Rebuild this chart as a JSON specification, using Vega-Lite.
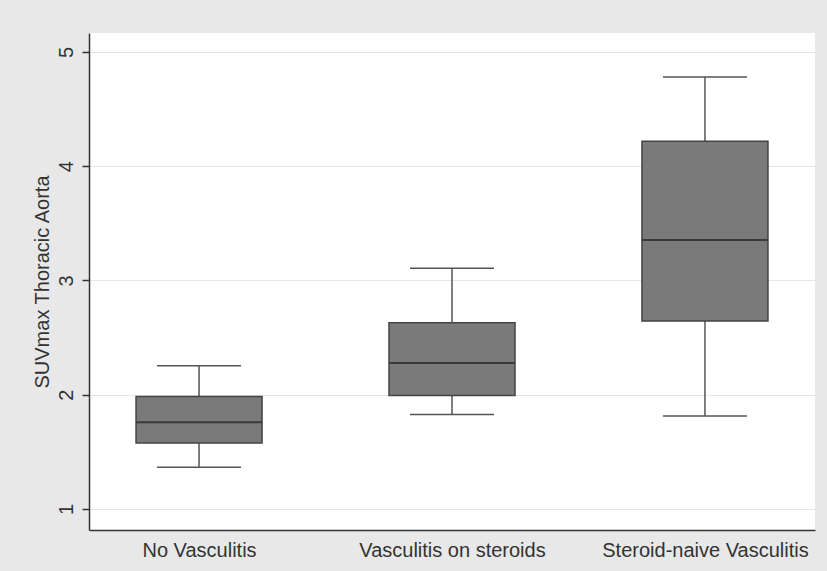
{
  "$schema": "https://vega.github.io/schema/vega-lite/v6.json",
  "autosize": {"type": "none"},
  "width": 726,
  "height": 497,
  "padding": {"left": 89, "top": 33, "right": 12, "bottom": 41},
  "background": "#e8e8e8",
  "config": {
    "view": {"fill": "white", "stroke": null},
    "font": "Liberation Sans"
  },
  "data": {
    "values": [
      {"group": "No Vasculitis", "lower": 1.365, "q1": 1.577, "median": 1.76, "q3": 1.985, "upper": 2.254},
      {"group": "Vasculitis on steroids", "lower": 1.828, "q1": 1.994, "median": 2.277, "q3": 2.63, "upper": 3.108},
      {"group": "Steroid-naive Vasculitis", "lower": 1.814, "q1": 2.645, "median": 3.355, "q3": 4.219, "upper": 4.78}
    ]
  },
  "encoding": {
    "x": {
      "field": "group",
      "type": "nominal",
      "sort": null,
      "scale": {"type": "point", "padding": 0.435},
      "axis": {
        "title": null,
        "ticks": false,
        "labelAngle": 0,
        "labelFontSize": 20,
        "labelLimit": 0,
        "labelColor": "#333333",
        "labelPadding": 10,
        "domainColor": "#333333",
        "domainWidth": 1.5,
        "grid": false
      }
    }
  },
  "layer": [
    {
      "mark": {"type": "rule", "color": "#555555", "strokeWidth": 1.5},
      "encoding": {
        "y": {
          "field": "lower",
          "type": "quantitative",
          "scale": {"domain": [0.816, 5.166], "nice": false, "zero": false},
          "axis": {
            "title": "SUVmax Thoracic Aorta",
            "titleFontSize": 20,
            "titleFontWeight": "normal",
            "titleColor": "#333333",
            "titleX": -47,
            "titleY": 248.5,
            "titleAngle": -90,
            "titleAlign": "center",
            "titleBaseline": "middle",
            "values": [1, 2, 3, 4, 5],
            "format": "d",
            "labelAngle": -90,
            "labelAlign": "center",
            "labelBaseline": "middle",
            "labelFontSize": 20,
            "labelColor": "#333333",
            "labelPadding": 16,
            "tickSize": 7,
            "tickColor": "#333333",
            "tickWidth": 1.5,
            "domainColor": "#333333",
            "domainWidth": 1.5,
            "grid": true,
            "gridColor": "#e6e6e6",
            "gridWidth": 1
          }
        },
        "y2": {"field": "upper"}
      }
    },
    {
      "mark": {"type": "bar", "size": 126, "fill": "#7a7a7a", "stroke": "#444444", "strokeWidth": 1.5},
      "encoding": {
        "y": {"field": "q1", "type": "quantitative"},
        "y2": {"field": "q3"}
      }
    },
    {
      "mark": {"type": "tick", "size": 126, "thickness": 2, "color": "#3a3a3a", "opacity": 1},
      "encoding": {
        "y": {"field": "median", "type": "quantitative"}
      }
    },
    {
      "mark": {"type": "tick", "size": 84, "thickness": 1.5, "color": "#555555", "opacity": 1},
      "encoding": {
        "y": {"field": "lower", "type": "quantitative"}
      }
    },
    {
      "mark": {"type": "tick", "size": 84, "thickness": 1.5, "color": "#555555", "opacity": 1},
      "encoding": {
        "y": {"field": "upper", "type": "quantitative"}
      }
    }
  ]
}
